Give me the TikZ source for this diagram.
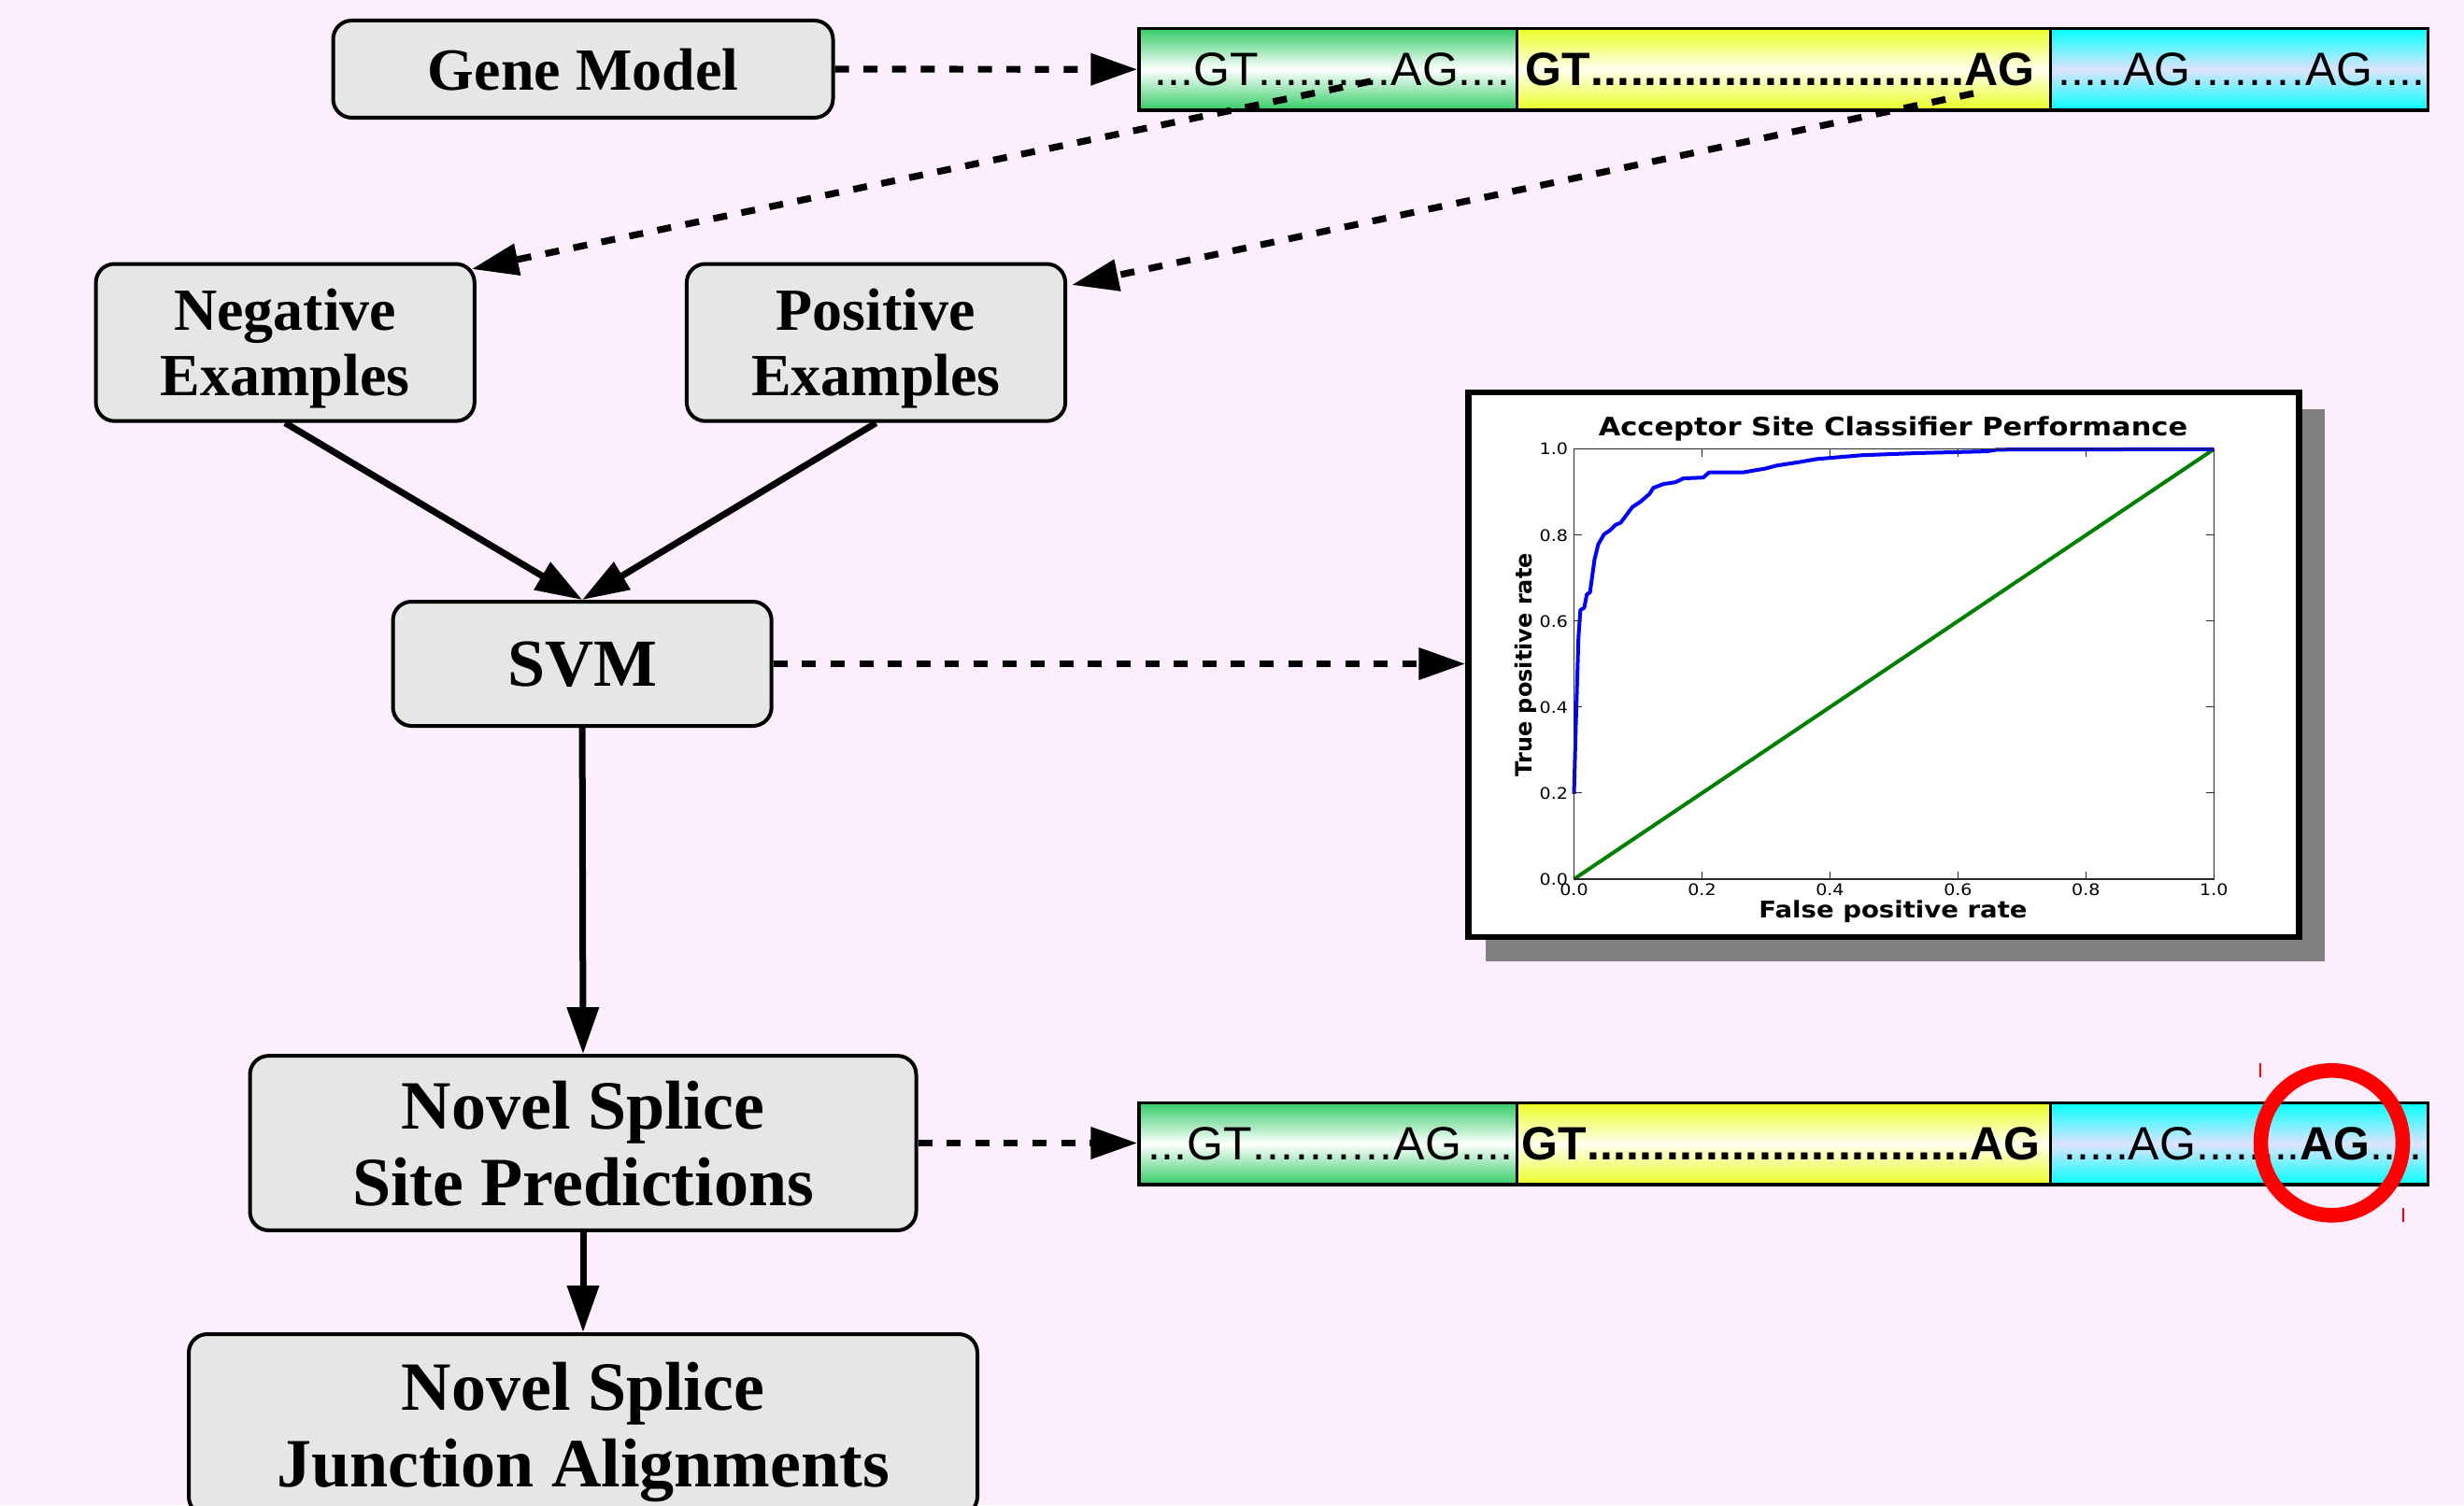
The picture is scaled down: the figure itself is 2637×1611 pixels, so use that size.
\documentclass[tikz,border=0pt]{standalone}
\usepackage{fontspec}
\setmainfont{Liberation Serif}
\newfontfamily\seqfont{Liberation Sans}
\newfontfamily\plotfont[FakeStretch=1.12]{DejaVu Sans}
\newfontfamily\plotfontr{DejaVu Sans}
\usetikzlibrary{arrows.meta}

\definecolor{bg}{RGB}{253,238,254}
\definecolor{boxgray}{RGB}{230,230,230}
\definecolor{seqgreen}{RGB}{51,204,102}
\definecolor{seqyellow}{RGB}{234,255,34}
\definecolor{seqyellowmid}{RGB}{255,255,238}
\definecolor{seqcyan}{RGB}{0,255,255}
\definecolor{seqcyanmid}{RGB}{222,228,255}
\definecolor{shadowgray}{RGB}{128,128,128}
\definecolor{rocblue}{RGB}{0,0,255}
\definecolor{rocgreen}{RGB}{0,128,0}
\definecolor{axisgray}{RGB}{40,40,40}

\newcommand\dts{\xleaders\hbox{.}\hfill}

\tikzset{
  flowbox/.style={draw=black, line width=2pt, fill=boxgray, rounded corners=10pt,
    inner sep=0pt, align=center, text depth=0pt},
  flowtext/.style={font=\bfseries\fontsize{32}{35}\selectfont},
  bigtext/.style={font=\bfseries\fontsize{37}{41}\selectfont},
  segbox/.style={draw=black, line width=1.75pt, inner sep=0pt, minimum height=43.75pt},
  greenseg/.style={segbox, top color=seqgreen, bottom color=seqgreen, middle color=white},
  yellowseg/.style={segbox, top color=seqyellow, bottom color=seqyellow, middle color=seqyellowmid},
  cyanseg/.style={segbox, top color=seqcyan, bottom color=seqcyan, middle color=seqcyanmid},
  seqtext/.style={anchor=base west, inner sep=0pt, font=\seqfont\fontsize{25}{25}\selectfont},
  solidarrow/.style={line width=3.5pt, -{Triangle[length=25pt,width=16.5pt]}},
  dasharrow/.style={line width=3.6pt, dash pattern=on 7.5pt off 7.8pt, -{Triangle[length=25pt,width=16.5pt]}},
  axisline/.style={draw=axisgray, line width=0.6pt},
  ticklabel/.style={inner sep=0pt, font=\plotfont\fontsize{8.5}{10}\selectfont},
}

\begin{document}
\begin{tikzpicture}[x=0.5pt, y=-0.5pt]
\clip (0,0) rectangle (2637,1611);
\fill[bg] (0,0) rectangle (2637,1611);

% ---- flow boxes
\node[flowbox, flowtext, minimum width=267.5pt, minimum height=52pt] (gene) at (624,74) {Gene Model};
\node[flowbox, flowtext, minimum width=202.6pt, minimum height=84.1pt] (neg) at (305.2,366.6) {Negative\\Examples};
\node[flowbox, flowtext, minimum width=202.6pt, minimum height=84.1pt] (pos) at (937.5,366.6) {Positive\\Examples};
\node[flowbox, bigtext, minimum width=202.6pt, minimum height=66.5pt, font=\bfseries\fontsize{36}{40}\selectfont] (svm) at (623.1,710.5) {SVM};
\node[flowbox, bigtext, minimum width=356.5pt, minimum height=93.4pt] (pred) at (624,1223.5) {Novel Splice\\Site Predictions};
\node[flowbox, bigtext, minimum width=422pt, minimum height=97pt] (junc) at (624,1525) {Novel Splice\\Junction Alignments};

% ---- top sequence bar
\node[greenseg, minimum width=202.15pt] (tg) at (1421.15,74.25) {};
\node[yellowseg, minimum width=285.5pt] (ty) at (1908.8,74.25) {};
\node[cyanseg, minimum width=202.2pt] (tc) at (2396.5,74.25) {};
\node[seqtext] (tgt) at (1235,91) {\hbox to 190.5pt{...GT\dts AG....}};
\node[seqtext] (tyt) at (1632,91) {\hbox to 272.5pt{\bfseries GT\dts AG}};
\node[seqtext] (tct) at (2202.5,91) {\hbox to 196pt{.....AG\dts AG....}};

% ---- bottom sequence bar
\node[greenseg, minimum width=202.15pt] (bgs) at (1421.15,1224.25) {};
\node[yellowseg, minimum width=285.5pt] (bys) at (1908.8,1224.25) {};
\node[cyanseg, minimum width=202.2pt] (bcs) at (2396.5,1224.25) {};
\node[seqtext] (bgt) at (1228,1241) {\hbox to 195.5pt{...GT\dts AG....}};
\node[seqtext] (byt) at (1628,1241) {\hbox to 277.5pt{\bfseries GT\dts AG}};
\node[seqtext] (bct) at (2208,1241) {\hbox to 192pt{.....AG\dts\textbf{AG}....}};

% red highlight
\draw[red, line width=7.8pt] (2495.5,1223.3) ellipse [x radius=38pt, y radius=38.75pt];
\draw[red, line width=0.6pt] (2419,1138) -- (2419,1153);
\draw[red, line width=0.6pt] (2572,1293) -- (2572,1308);

% ---- ROC plot
\fill[shadowgray] (1590,438) rectangle (2488,1029);
\node[draw=black, fill=white, line width=3.25pt, inner sep=0pt,
      minimum width=444.5pt, minimum height=291.5pt] (plot) at (2016,711.3) {};
\begin{scope}[shift={(1684.5,940.9)}, x=342.4pt, y=230.05pt]
  \draw[rocgreen, line width=2pt] (0,0) -- (1,1);
  \draw[rocblue, line width=2pt, line join=round] plot coordinates {
    (0,0.198) (0.003,0.365) (0.007,0.563) (0.01,0.626) (0.016,0.631) (0.02,0.662)
    (0.025,0.667) (0.032,0.743) (0.038,0.779) (0.047,0.802) (0.056,0.811) (0.065,0.824)
    (0.073,0.829) (0.082,0.847) (0.091,0.865) (0.104,0.878) (0.118,0.896) (0.124,0.910)
    (0.140,0.919) (0.158,0.923) (0.171,0.932) (0.202,0.934) (0.211,0.946) (0.264,0.946)
    (0.299,0.955) (0.317,0.962) (0.352,0.970) (0.379,0.977) (0.45,0.986) (0.538,0.991)
    (0.644,0.995) (0.662,0.999) (1,1)};
  \draw[axisline] (0,0) rectangle (1,1);
  \foreach \t/\l/\n in {0/0.0/0, 0.2/0.2/1, 0.4/0.4/2, 0.6/0.6/3, 0.8/0.8/4, 1/1.0/5} {
    \draw[axisline] (\t,0) -- (\t,0.0174);
    \draw[axisline] (\t,1) -- (\t,0.9826);
    \draw[axisline] (0,\t) -- (0.0117,\t);
    \draw[axisline] (1,\t) -- (0.9883,\t);
    \node[ticklabel, anchor=north] (xt\n) at (\t,-0.011) {\l};
    \node[ticklabel, anchor=east] (yt\n) at (-0.009,\t) {\l};
  }
\end{scope}
\node[anchor=base, inner sep=0pt, font=\plotfont\bfseries\fontsize{13.6}{15}\selectfont] (ptitle) at (2026,466) {Acceptor Site Classifier Performance};
\node[anchor=base, inner sep=0pt, font=\plotfont\bfseries\fontsize{12.3}{14}\selectfont] (pxlab) at (2026,982) {False positive rate};
\node[anchor=base, rotate=90, inner sep=0pt, font=\plotfontr\bfseries\fontsize{12}{14}\selectfont] (pylab) at (1639,711.7) {True positive rate};

% ---- connectors
\coordinate (negsrc) at (1467,87);
\coordinate (possrc) at (2112,100);
\draw[dasharrow] (gene.east) -- (tg.west);
\draw[dasharrow] (negsrc) -- ([shift={(-5,7.5)}]neg.north east);
\draw[dasharrow] (possrc) -- ([shift={(5,24.5)}]pos.north east);
\draw[solidarrow] (neg.south) -- (svm.north);
\draw[solidarrow] (pos.south) -- (svm.north);
\draw[dasharrow] (svm.east) -- (svm.east -| plot.west);
\draw[solidarrow] (svm.south) -- (pred.north);
\draw[dasharrow] (pred.east) -- (pred.east -| bgs.west);
\draw[solidarrow] (pred.south) -- (junc.north);
\end{tikzpicture}
\end{document}
